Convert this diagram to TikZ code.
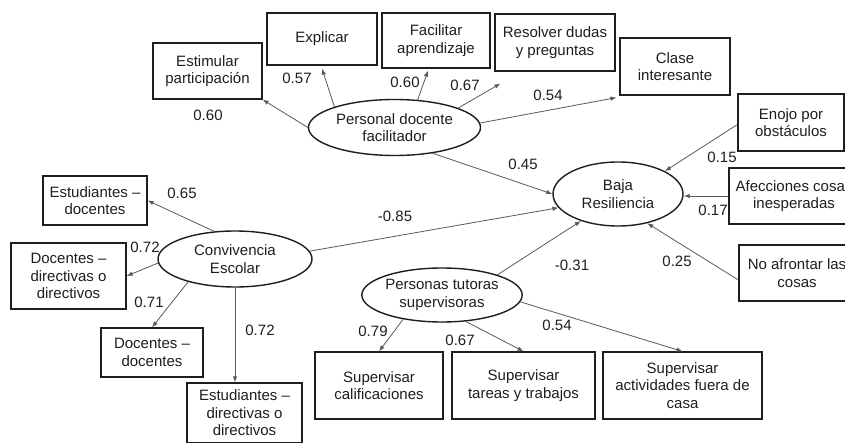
\documentclass[tikz,border=0pt]{standalone}
\usepackage{fontspec}
\setmainfont{Liberation Sans}
\usetikzlibrary{shapes.geometric,arrows.meta}
\definecolor{linegray}{HTML}{5A5A5A}
\definecolor{ink}{HTML}{1E1E1E}
\tikzset{
  every node/.style={font=\fontsize{15}{17.5}\selectfont, text=ink},
  box/.style={draw=ink, line width=1.2pt, rectangle, align=center, inner sep=0pt},
  latent/.style={draw=ink, line width=1.4pt, ellipse, align=center, inner sep=0pt},
  arr/.style={draw=linegray, line width=0.8pt, -{Latex[length=6pt,width=4.5pt]}},
  lbl/.style={inner sep=0pt}
}
\begin{document}
\begin{tikzpicture}[x=1pt,y=-1pt]
\useasboundingbox (0,0) rectangle (845,443);
\fill[white] (0,0) rectangle (845,443);
\clip (0,0) rectangle (845,443);

% boxes
\node[box, minimum width=109pt, minimum height=56pt] (estim) at (207.5,71) {Estimular\\participación};
\node[box, minimum width=110pt, minimum height=52pt] (explicar) at (322,39) {Explicar};
\node[box, minimum width=108pt, minimum height=55pt] (facil) at (436,40.5) {Facilitar\\aprendizaje};
\node[box, minimum width=120pt, minimum height=57pt] (resolver) at (555,42.5) {Resolver dudas\\y preguntas};
\node[box, minimum width=110pt, minimum height=57pt] (clase) at (675,66.5) {Clase\\interesante};
\node[box, minimum width=106pt, minimum height=57pt] (enojo) at (791,122.5) {Enojo por\\obstáculos};
\node[box, minimum width=130pt, minimum height=56pt] (afec) at (794,196) {Afecciones cosas\\inesperadas};
\node[box, minimum width=116pt, minimum height=56pt] (noafr) at (797,273) {No afrontar las\\cosas};
\node[box, minimum width=104pt, minimum height=49pt] (estdoc) at (95,200.5) {Estudiantes –\\docentes};
\node[box, minimum width=115pt, minimum height=66pt] (docdir) at (68.5,276) {Docentes –\\directivas o\\directivos};
\node[box, minimum width=102pt, minimum height=49pt] (docdoc) at (152,352.5) {Docentes –\\docentes};
\node[box, minimum width=115pt, minimum height=60pt] (estdir) at (244.5,413) {Estudiantes –\\directivas o\\directivos};
\node[box, minimum width=128pt, minimum height=67pt] (supcal) at (379,385.5) {Supervisar\\calificaciones};
\node[box, minimum width=143pt, minimum height=67pt] (suptar) at (523.5,385.5) {Supervisar\\tareas y trabajos};
\node[box, minimum width=159pt, minimum height=67pt] (supact) at (682.5,385.5) {Supervisar\\actividades fuera de\\casa};

% latent variables
\node[latent, minimum width=172pt, minimum height=56pt] (pdf) at (394.5,127.5) {Personal docente\\facilitador};
\node[latent, minimum width=130pt, minimum height=64pt] (baja) at (618,194) {Baja\\Resiliencia};
\node[latent, minimum width=154pt, minimum height=56pt] (conv) at (235,259) {Convivencia\\Escolar};
\node[latent, minimum width=160pt, minimum height=54pt] (pers) at (442,295) {Personas tutoras\\supervisoras};

% connectors: Personal docente facilitador
\draw[arr] (pdf.west) -- (estim.south east);
\draw[arr] (pdf.161) -- ([yshift=-3pt]explicar.south);
\draw[arr] (pdf.50) -- ([shift={(-8pt,-2pt)}]facil.south);
\draw[arr] (pdf.17) -- ([shift={(6pt,-12pt)}]resolver.south west);
\draw[arr] (pdf.3) -- ([shift={(-3pt,-2pt)}]clase.south west);
\draw[arr] (pdf.-34) -- (baja.west);

% connectors into Baja Resiliencia
\draw[arr] (conv.6) -- (baja.193);
\draw[arr] (pers.20) -- (baja.216);
\draw[arr] ([yshift=-2pt]enojo.west) -- (baja.26);
\draw[arr] (afec.west) -- (afec.west -| baja.east);
\draw[arr] ([yshift=-7pt]noafr.west) -- (baja.-45);

% Convivencia Escolar
\draw[arr] (conv.127) -- (estdoc.east);
\draw[arr] (conv.183) -- (docdir.east);
\draw[arr] (conv.206) -- (docdoc.north);
\draw[arr] (conv.south) -- (conv.south |- estdir.north);

% Personas tutoras supervisoras
\draw[arr] (pers.212) -- (supcal.north);
\draw[arr] (pers.-48) -- (suptar.north);
\draw[arr] (pers.-5) -- (supact.north);

% coefficient labels
\node[lbl] (c1) at (208,115) {0.60};
\node[lbl] (c2) at (297,78) {0.57};
\node[lbl] (c3) at (405,82) {0.60};
\node[lbl] (c4) at (465,85) {0.67};
\node[lbl] (c5) at (548,95) {0.54};
\node[lbl] (c6) at (523,164) {0.45};
\node[lbl] (c7) at (722,157) {0.15};
\node[lbl] (c8) at (713,210) {0.17};
\node[lbl] (c9) at (677,261) {0.25};
\node[lbl] (c10) at (572,265) {-0.31};
\node[lbl] (c11) at (395,216) {-0.85};
\node[lbl] (c12) at (182,193) {0.65};
\node[lbl] (c13) at (145,247) {0.72};
\node[lbl] (c14) at (149,302) {0.71};
\node[lbl] (c15) at (260,330) {0.72};
\node[lbl] (c16) at (373,331) {0.79};
\node[lbl] (c17) at (460,340) {0.67};
\node[lbl] (c18) at (557,325) {0.54};
\end{tikzpicture}
\end{document}
